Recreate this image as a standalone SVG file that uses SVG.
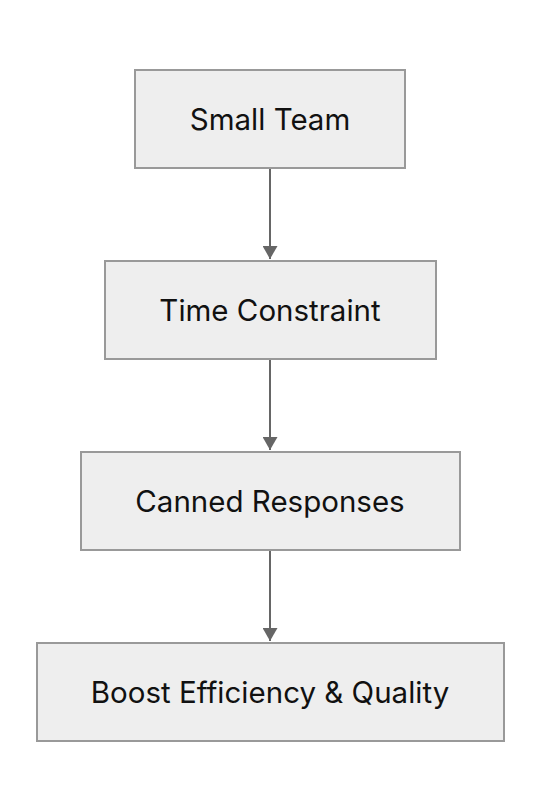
<svg xmlns="http://www.w3.org/2000/svg" width="540" height="812" viewBox="0 0 540 812">
<defs>
<style>
.node rect{fill:#eeeeee;stroke:#999999;stroke-width:2}
.node text{font-family:Inter,"Liberation Sans",sans-serif;font-size:29.5px;fill:#111111;text-anchor:middle}
.edge{stroke:#666666;stroke-width:2;fill:none}
</style>
<marker id="arrowH" viewBox="0 0 15 13" refX="7.5" refY="13" markerWidth="15" markerHeight="13" markerUnits="userSpaceOnUse" orient="0">
<path d="M0,0 L15,0 L7.5,13 z" fill="#666666"/>
</marker>
</defs>
<rect width="540" height="812" fill="#ffffff"/>
<g id="connectors">
<path class="edge" d="M270,169 V259" marker-end="url(#arrowH)"/>
<path class="edge" d="M270,360 V450" marker-end="url(#arrowH)"/>
<path class="edge" d="M270,551 V641" marker-end="url(#arrowH)"/>
</g>
<g id="node-small-team" class="node">
<rect x="135" y="70" width="270" height="98"/>
<text x="270" y="130">Small Team</text>
</g>
<g id="node-time-constraint" class="node">
<rect x="105" y="261" width="331" height="98"/>
<text x="270" y="321">Time Constraint</text>
</g>
<g id="node-canned-responses" class="node">
<rect x="81" y="452" width="379" height="98"/>
<text x="270" y="512">Canned Responses</text>
</g>
<g id="node-boost" class="node">
<rect x="37" y="643" width="467" height="98"/>
<text x="270" y="703">Boost Efficiency &amp; Quality</text>
</g>
</svg>
